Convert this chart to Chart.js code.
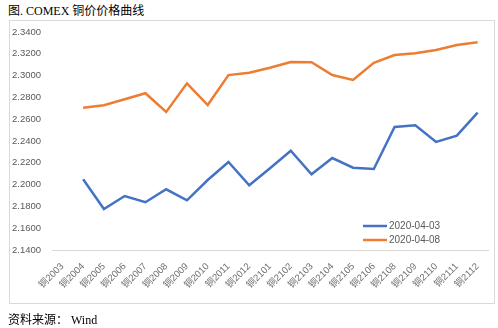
<!DOCTYPE html>
<html>
<head>
<meta charset="utf-8">
<script src="https://cdn.jsdelivr.net/npm/chart.js@4"></script>
<style>
  body { margin: 0; background: #fff; }
  #wrap { position: relative; width: 498px; height: 328px; }
  #title { position: absolute; left: 8px; top: 1px; font: 12px "Liberation Serif", "Noto Sans CJK SC", serif; color: #000; }
  #box { position: absolute; left: 9px; top: 20px; width: 484px; height: 282px; border: 1px solid #d9d9d9; }
  #source { position: absolute; left: 8px; top: 310px; font: 12px "Liberation Serif", "Noto Sans CJK SC", serif; color: #000; }
  canvas { position: absolute; left: 0; top: 0; }
</style>
</head>
<body>
<div id="wrap">
  <div id="title">图. COMEX 铜价价格曲线</div>
  <div id="box"></div>
  <canvas id="copperChart" width="498" height="328"></canvas>
  <div id="source">资料来源： Wind</div>
</div>
<script>
const labels = ['铜2003','铜2004','铜2005','铜2006','铜2007','铜2008','铜2009','铜2010','铜2011','铜2012',
  '铜2101','铜2102','铜2103','铜2104','铜2105','铜2106','铜2108','铜2109','铜2110','铜2111','铜2112'];
const apr03 = [null, 2.2049, 2.1776, 2.1895, 2.1838, 2.1957, 2.1856, 2.2042, 2.2207, 2.1994,
  2.2150, 2.2311, 2.2094, 2.2244, 2.2155, 2.2143, 2.2528, 2.2544, 2.2391, 2.2449, 2.2660];
const apr08 = [null, 2.2706, 2.2728, 2.2783, 2.2838, 2.2666, 2.2929, 2.2730, 2.3005, 2.3027,
  2.3072, 2.3125, 2.3122, 2.3005, 2.2960, 2.3118, 2.3189, 2.3205, 2.3235, 2.3281, 2.3305];
const seriesNames = ['2020-04-03', '2020-04-08'];

const tickFont = { family: '"Liberation Sans", "Noto Sans CJK SC", sans-serif', size: 9.5 };

// legend drawn inside the plot, lower right
const innerLegend = {
    id: 'innerLegend',
    afterDraw(chart) {
        const c = chart.ctx;
        c.save();
        c.font = '10px "Liberation Sans", sans-serif';
        c.fillStyle = '#595959';
        c.textBaseline = 'middle';
        chart.data.datasets.forEach(function(ds, i){
            const y = 226 + i * 14;
            c.strokeStyle = ds.borderColor;
            c.lineWidth = 2.5;
            c.beginPath();
            c.moveTo(363, y);
            c.lineTo(387, y);
            c.stroke();
            c.fillText(ds.label, 389, y);
        });
        c.restore();
    }
};

const ctx = document.getElementById('copperChart');
const copperChart = new Chart(ctx, {
    type: 'line',
    data: {
        labels: labels,
        datasets: [{
            label: seriesNames[0],
            data: apr03,
            borderColor: '#4472C4',
            borderWidth: 2.5,
            pointRadius: 0,
            tension: 0,
        }, {
            label: seriesNames[1],
            data: apr08,
            borderColor: '#ED7D31',
            borderWidth: 2.5,
            pointRadius: 0,
            tension: 0,
        }]
    },
    options: {
        responsive: false,
        animation: false,
        layout: { padding: { left: 12, right: 10, top: 32, bottom: 0 } },
        plugins: {
            legend: { display: false },
            tooltip: { enabled: false }
        },
        scales: {
            x: {
                offset: true,
                grid: { display: false },
                border: { display: true, color: '#d9d9d9', width: 1 },
                ticks: {
                    color: '#6e6e6e',
                    font: tickFont,
                    minRotation: 45,
                    maxRotation: 45,
                    autoSkip: false,
                    padding: 3
                },
                afterFit: function(scale) { scale.height = 78; }
            },
            y: {
                min: 2.14,
                max: 2.34,
                grid: { display: false },
                border: { display: false },
                ticks: {
                    stepSize: 0.02,
                    color: '#595959',
                    font: tickFont,
                    crossAlign: 'far',
                    callback: function(v) { return v.toFixed(4); }
                },
                afterFit: function(scale) { scale.width = 40; }
            }
        }
    },
    plugins: [innerLegend]
});
</script>
</body>
</html>
